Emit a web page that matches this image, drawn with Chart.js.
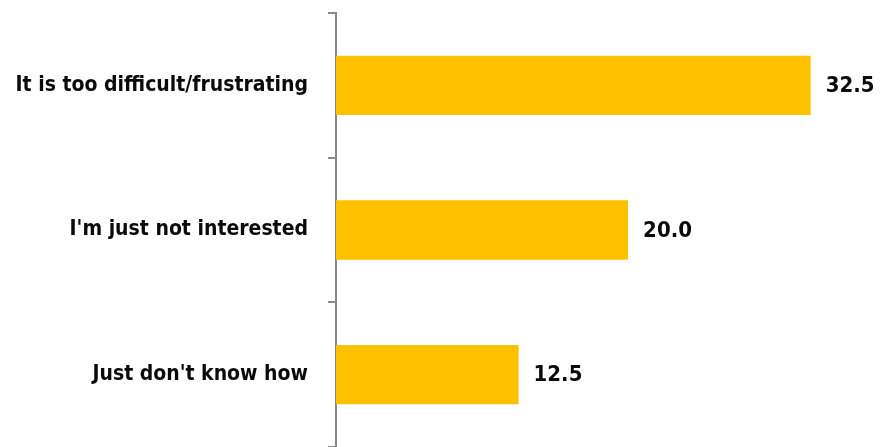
<!DOCTYPE html>
<html>
<head>
<meta charset="utf-8">
<script src="https://cdn.jsdelivr.net/npm/chart.js@4"></script>
<style>
  html, body { margin: 0; padding: 0; background: #fff; }
  #chartContainer { width: 893px; height: 447px; }
</style>
</head>
<body>
<div id="chartContainer"><canvas id="barChart"></canvas></div>
<script>
// reasons and percentages
const reasons = ['It is too difficult/frustrating', "I'm just not interested", "Just don't know how"];
const shares = [32.5, 20.0, 12.5];

const fontFamily = "'DejaVu Sans Condensed', 'DejaVu Sans', sans-serif";
const labelFont = { family: fontFamily, weight: 'bold', size: 21 };
const valueFontSize = 22;

// write the value just past the end of each bar
const valueLabels = {
    id: 'valueLabels',
    afterDatasetsDraw(chart) {
        const ctx = chart.ctx;
        const meta = chart.getDatasetMeta(0);
        ctx.save();
        ctx.font = `bold ${valueFontSize}px ${fontFamily}`;
        ctx.fillStyle = '#0a0a0a';
        ctx.textAlign = 'left';
        ctx.textBaseline = 'middle';
        meta.data.forEach((bar, i) => {
            ctx.fillText(shares[i].toFixed(1), bar.x + 15, bar.y + 1);
        });
        ctx.restore();
    }
};

const ctx = document.getElementById('barChart').getContext('2d');
const barChart = new Chart(ctx, {
    type: 'bar',
    data: {
        labels: reasons,
        datasets: [{
            data: shares,
            backgroundColor: '#FFC000',
            borderWidth: 0,
            categoryPercentage: 1,
            barPercentage: 0.41
        }]
    },
    options: {
        indexAxis: 'y',
        responsive: true,
        maintainAspectRatio: false,
        animation: false,
        layout: { padding: { top: 13, right: 2, bottom: 0, left: 0 } },
        plugins: {
            legend: { display: false },
            tooltip: { enabled: false }
        },
        scales: {
            x: {
                display: false,
                min: 0,
                max: 38
            },
            y: {
                afterFit: (scale) => {
                    // fixed axis position, no extra room above/below the bands
                    scale.width = 336;
                    scale.paddingTop = 0;
                    scale.paddingBottom = 0;
                },
                grid: {
                    drawOnChartArea: false,
                    drawTicks: true,
                    tickLength: 8,
                    color: '#898989',
                    lineWidth: 2
                },
                border: { display: true, color: '#898989', width: 2 },
                ticks: {
                    color: '#0a0a0a',
                    font: labelFont,
                    padding: 20
                }
            }
        }
    },
    plugins: [valueLabels]
});
</script>
</body>
</html>
